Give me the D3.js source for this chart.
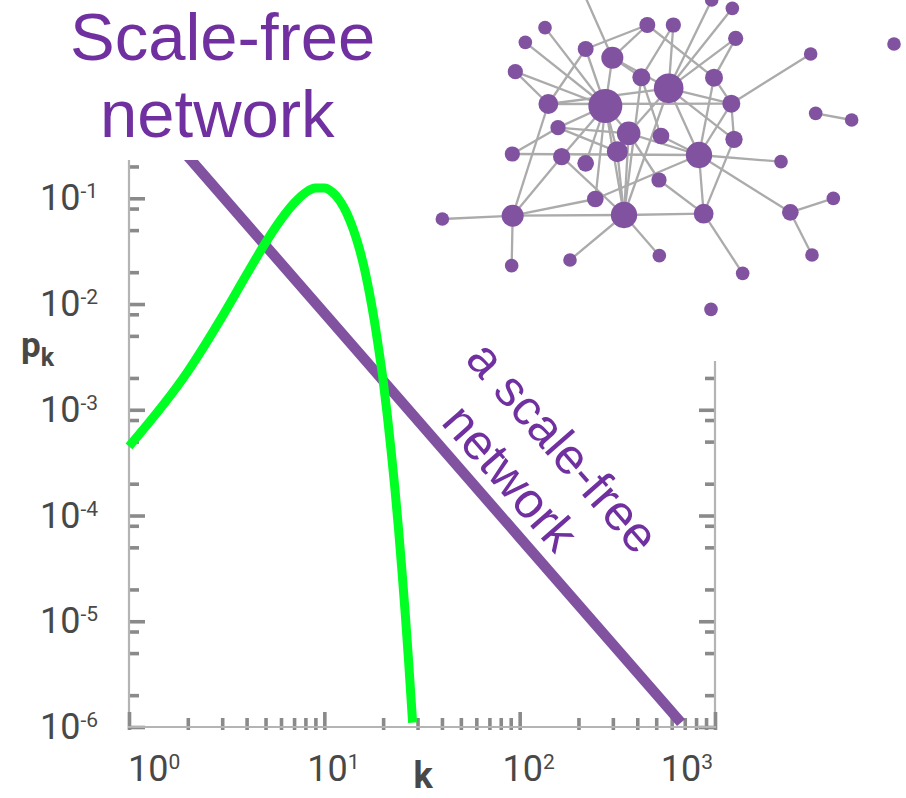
<!DOCTYPE html>
<html>
<head>
<meta charset="utf-8">
<script src="https://cdn.jsdelivr.net/npm/d3@7"></script>
<style>
  html, body { margin: 0; padding: 0; background: #fff; }
  svg { display: block; }
</style>
</head>
<body>
<svg id="chart" width="906" height="798"></svg>
<script>
// ---- Random (Poisson-like) network: degree distribution p_k ----
const randomK = [1, 2, 3, 4, 5, 6, 7, 8, 9, 10, 11, 12, 13, 14, 15, 16, 17, 18, 19, 20,
                 21, 22, 23, 24, 25, 26, 27, 28, 28.3];
const randomP = [4.5e-4, 2.3e-3, 7.6e-3, 1.9e-2, 3.8e-2, 6.3e-2, 9.0e-2, 0.113, 0.125, 0.125,
                 0.114, 0.095, 0.073, 0.052, 0.035, 0.022, 0.0128, 0.0071, 0.0037, 0.0019,
                 8.9e-4, 4.0e-4, 1.76e-4, 7.3e-5, 2.9e-5, 1.13e-5, 4.2e-6, 1.5e-6, 1.1e-6];

// ---- Scale-free network: power-law p_k ----
const scaleFreeK = [1.6, 10, 100, 670];
const scaleFreeP = [0.40, 0.0082, 0.000062, 0.0000011];

// ---- Axis ticks ----
const xMajorTicks = [1, 10, 100, 1000];
const xMajorExponents = ["0", "1", "2", "3"];
const xMinorTicks = [2, 3, 4, 5, 6, 7, 8, 9, 20, 30, 40, 50, 60, 70, 80, 90,
                     200, 300, 400, 500, 600, 700, 800, 900];
const yMajorTicks = [1e-1, 1e-2, 1e-3, 1e-4, 1e-5, 1e-6];
const yMajorExponents = ["-1", "-2", "-3", "-4", "-5", "-6"];
const yMinorTicks = [2e-1, 8e-2, 5e-2, 2e-2, 8e-3, 5e-3, 2e-3, 8e-4, 5e-4, 2e-4,
                     8e-5, 5e-5, 2e-5, 8e-6, 5e-6, 2e-6];
const yLeftAxisTop = 0.23;      // left axis line (and plot area) runs up to here
const yRightAxisTop = 0.0029;   // right axis line runs up to here

// ---- Network picture (layout units on a 1428 x 960 canvas) ----
const nodeX = [450, 845, 907, 652, 730, 345, 917, 286, 467, 547, 1142, 1392, 256, 634, 716,
               852, 355, 526, 904, 1157, 1265, 384, 596, 693, 912, 247, 395, 562, 467, 807,
               1053, 687, 496, 1210, 248, 582, 821, 1081, 37, 245, 420, 688, 1146, 938, 843];
const nodeY = [-45, 0, 25, 75, 75, 83, 115, 127, 147, 173, 162, 132, 215, 232, 265,
               233, 312, 318, 311, 340, 360, 383, 400, 408, 418, 462, 470, 455, 490, 465,
               485, 540, 597, 595, 647, 645, 641, 637, 657, 797, 780, 767, 765, 820, 928];
const nodeWeight = [4, 4, 4, 5.5, 5, 4, 5, 4, 5.5, 10.5, 4, 4, 5, 7, 19,
                    7, 8.5, 25, 7, 4, 4, 5, 12, 6, 6.5, 5, 6.5, 9.5, 6, 15,
                    4, 5, 6, 4, 10.5, 15, 8.5, 6, 4, 4, 4, 4, 4, 4, 4];
const links = [
  [0, 9], [5, 17], [7, 17], [12, 17], [12, 16], [8, 3], [8, 16], [8, 17],
  [9, 3], [9, 17], [9, 13], [9, 14], [3, 15], [4, 14], [4, 13],
  [1, 14], [2, 14], [6, 14], [6, 15], [10, 18], [19, 20],
  [15, 18], [15, 29], [14, 18], [16, 18], [16, 14],
  [14, 29], [14, 24], [18, 24], [18, 29],
  [17, 21], [25, 21], [21, 22], [25, 29],
  [22, 29], [23, 29], [17, 22], [17, 26], [17, 27], [17, 35], [17, 32], [17, 28],
  [14, 35], [14, 22], [13, 35], [13, 23], [22, 35], [27, 35],
  [22, 31], [31, 36], [26, 34], [26, 35], [16, 34],
  [34, 32], [34, 35], [34, 38], [34, 39],
  [35, 40], [35, 41], [35, 36],
  [32, 29], [36, 29], [36, 43], [36, 24],
  [29, 30], [29, 37], [37, 33], [37, 42], [21, 27]
];

// ---- Colours and fonts ----
const purpleText = "#7030a0";
const purpleLine = "#8152a0";
const green = "#00ff22";
const axisColor = "#b4b4b4";
const tickColor = "#8a8a8a";
const labelColor = "#484848";
const numFont = "Roboto, 'Open Sans', sans-serif";
const titleFont = "'Liberation Sans', Arial, sans-serif";

const svg = d3.select("#chart");
svg.append("rect").attr("width", 906).attr("height", 798).attr("fill", "#fff");

// Scales
const x = d3.scaleLog().domain([1, 1000]).range([129, 715]);
const y = d3.scaleLog().domain([1e-6, 1e-1]).range([727, 198.3]);

// Plot area clip: curves are cut off at the top of the left axis
svg.append("clipPath").attr("id", "plot-clip")
  .append("rect")
  .attr("x", x(1) - 20).attr("y", y(yLeftAxisTop))
  .attr("width", x(1000) - x(1) + 40)
  .attr("height", y(1e-6) - y(yLeftAxisTop) + 20);

const axisG = svg.append("g");

// Left axis
const left = axisG.append("g").attr("transform", `translate(${x(1)},0)`);
left.call(d3.axisRight(y).tickValues(yMajorTicks.concat(yMinorTicks)).tickSize(10).tickFormat(""));
left.select(".domain").remove();
left.append("line")
  .attr("x1", 0).attr("x2", 0)
  .attr("y1", y(yLeftAxisTop)).attr("y2", y(1e-6) + 3)
  .attr("stroke", axisColor).attr("stroke-width", 2.2);

// Right axis
const right = axisG.append("g").attr("transform", `translate(${x(1000)},0)`);
right.call(d3.axisLeft(y)
  .tickValues(yMajorTicks.concat(yMinorTicks).filter(v => v <= yRightAxisTop))
  .tickSize(10).tickFormat(""));
right.select(".domain").remove();
right.append("line")
  .attr("x1", 0).attr("x2", 0)
  .attr("y1", y(yRightAxisTop)).attr("y2", y(1e-6) + 3)
  .attr("stroke", axisColor).attr("stroke-width", 2.2);

// Bottom axis
const bottom = axisG.append("g").attr("transform", `translate(0,${y(1e-6)})`);
bottom.call(d3.axisTop(x).tickValues(xMajorTicks.concat(xMinorTicks)).tickSize(10).tickFormat(""));
bottom.select(".domain").remove();
bottom.append("line")
  .attr("x1", x(1) - 1).attr("x2", x(1000) + 1)
  .attr("y1", 0).attr("y2", 0)
  .attr("stroke", axisColor).attr("stroke-width", 2.2);

// Tick styling: majors longer than minors
const isMajorY = v => yMajorTicks.includes(v);
const isMajorX = v => xMajorTicks.includes(v);
left.selectAll(".tick line")
  .attr("x1", -1).attr("x2", d => isMajorY(d) ? 16 : 10);
right.selectAll(".tick line")
  .attr("x1", 1).attr("x2", d => isMajorY(d) ? -16 : -10);
bottom.selectAll(".tick line")
  .attr("y1", 3).attr("y2", d => isMajorX(d) ? -15 : -9);
axisG.selectAll(".tick line")
  .attr("stroke", tickColor).attr("stroke-width", 3.6);

// Tick labels with superscript exponents
const yLab = svg.append("g").attr("font-family", numFont).attr("fill", labelColor);
yMajorTicks.forEach((v, i) => {
  const t = yLab.append("text")
    .attr("x", 40).attr("y", y(v) + 12)
    .attr("font-size", 36);
  t.append("tspan").text("10");
  t.append("tspan").attr("dy", -12).attr("font-size", 21).text(yMajorExponents[i]);
});

const xLab = svg.append("g").attr("font-family", numFont).attr("fill", labelColor);
xMajorTicks.forEach((v, i) => {
  let anchor = "middle", px = x(v) + 9;
  if (i === 0) { anchor = "start"; px = x(v) - 1; }
  if (i === xMajorTicks.length - 1) { anchor = "end"; px = x(v) - 2; }
  const t = xLab.append("text")
    .attr("x", px).attr("y", 781)
    .attr("text-anchor", anchor)
    .attr("font-size", 36);
  t.append("tspan").text("10");
  t.append("tspan").attr("dy", -12).attr("font-size", 21).text(xMajorExponents[i]);
});

// Axis titles
svg.append("text")
  .attr("x", 423).attr("y", 788)
  .attr("text-anchor", "middle")
  .attr("font-family", numFont).attr("font-weight", "bold")
  .attr("font-size", 36).attr("fill", labelColor)
  .text("k");

const pk = svg.append("text")
  .attr("x", 21).attr("y", 357)
  .attr("font-family", numFont).attr("font-weight", "bold")
  .attr("fill", labelColor).attr("font-size", 35);
pk.append("tspan").text("p");
pk.append("tspan").attr("dy", 9).attr("font-size", 25).text("k");

// Curves
const plot = svg.append("g").attr("clip-path", "url(#plot-clip)");

plot.append("path")
  .datum(scaleFreeK.map((k, i) => [k, scaleFreeP[i]]))
  .attr("d", d3.line().x(d => x(d[0])).y(d => y(d[1])))
  .attr("fill", "none")
  .attr("stroke", purpleLine)
  .attr("stroke-width", 10.5);

plot.append("path")
  .datum(randomK.map((k, i) => [k, randomP[i]]))
  .attr("d", d3.line().x(d => x(d[0])).y(d => y(d[1])).curve(d3.curveMonotoneX))
  .attr("fill", "none")
  .attr("stroke", green)
  .attr("stroke-width", 9)
  .attr("stroke-linejoin", "round");

// Title
const title = svg.append("g")
  .attr("font-family", titleFont).attr("font-size", 67).attr("fill", purpleText);
title.append("text").attr("x", 70).attr("y", 60).text("Scale-free");
title.append("text").attr("x", 100).attr("y", 137).text("network");

// Label running alongside the power-law line
const slopeAngle = 48.8;
const lab = svg.append("g")
  .attr("font-family", titleFont).attr("font-size", 50).attr("fill", purpleText);
lab.append("text")
  .attr("transform", `translate(464,360) rotate(${slopeAngle})`)
  .text("a scale-free");
lab.append("text")
  .attr("transform", `translate(440,423) rotate(${slopeAngle})`)
  .text("network");

// Network drawing
const gx = d3.scaleLinear().domain([0, 1428]).range([430, 906]);
const gy = d3.scaleLinear().domain([0, 960]).range([0, 320]);
const r = d3.scaleSqrt().domain([0, 25]).range([0, 17]);

const net = svg.append("g");
net.selectAll("line")
  .data(links)
  .join("line")
  .attr("x1", d => gx(nodeX[d[0]])).attr("y1", d => gy(nodeY[d[0]]))
  .attr("x2", d => gx(nodeX[d[1]])).attr("y2", d => gy(nodeY[d[1]]))
  .attr("stroke", "#ababab").attr("stroke-width", 2.3);
net.selectAll("circle")
  .data(nodeX.map((v, i) => i))
  .join("circle")
  .attr("cx", i => gx(nodeX[i])).attr("cy", i => gy(nodeY[i]))
  .attr("r", i => r(nodeWeight[i]))
  .attr("fill", purpleLine);
</script>
</body>
</html>
